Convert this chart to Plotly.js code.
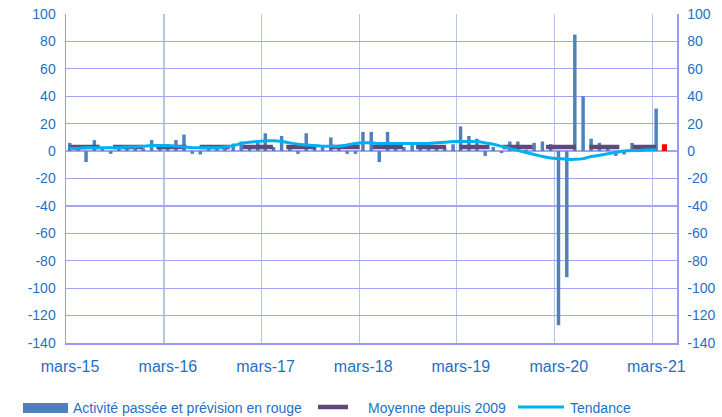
<!DOCTYPE html>
<html><head><meta charset="utf-8">
<script src="https://cdn.plot.ly/plotly-3.0.1.min.js"></script>
<style>html,body{margin:0;padding:0;background:#fff;} #chart{width:722px;height:417px;}</style>
</head><body><div id="chart"></div>
<script>
// ---- data ----
const startYear = 2015, startMonth = 3; // first bar: mars-15
const activite = [
  6, 3, -8, 8, 2, -2, 2, 1.5, 2, 2,          // mars-15 .. déc-15
  8, 2, 2.5, 8, 12, -2, -2.5, 1.5, 2, 2, 5.5, 7, // janv-16 .. déc-16
  3, 8, 13, 3, 11, 2, -2, 13, 2, 3, 10, 2,    // 2017
  -2, -2, 14, 14, -8, 14, 2, 3, 5, 2, 2, 2,   // 2018
  2, 5, 18, 11, 9, -3.5, 3, -1.5, 7, 7, 1, 6, // 2019
  7, 5, -127, -92, 85, 40, 9, 6, 2, -3.5, -2.5, 6, // 2020
  2, 2, 31, 5                                 // janv-21 .. avr-21 (avr-21 = prévision)
];
const tendance = [
  2, 2, 2.5, 2.5, 2.5, 2.5, 2.5, 3, 3, 3.5,
  4, 4, 4, 3.5, 3, 2.5, 2.5, 2.5, 2.5, 3, 4, 5.5,
  6.5, 7, 7.5, 7.5, 7, 6, 5, 4.5, 4, 3.5, 3.5, 3.5,
  4.5, 5.5, 6, 6, 5.5, 5.5, 5.5, 5.5, 5.5, 5.5, 5.5, 6,
  6.5, 7, 7, 7, 7, 6, 5, 3.5, 2, 0.5, -1, -2.5,
  -4, -5, -5.5, -6, -6, -5.5, -4, -3, -2, -1, 0, 0.5,
  0.5, 1, 1
];
const moyenneDepuis2009 = 3;
const xTickDates = ['2015-03-01','2016-03-01','2017-03-01','2018-03-01','2019-03-01','2020-03-01','2021-03-01'];
const xTickLabels = ['mars-15','mars-16','mars-17','mars-18','mars-19','mars-20','mars-21'];
const yTickVals = [100, 80, 60, 40, 20, 0, -20, -40, -60, -80, -100, -120, -140];
const yTickLabels = ['100','80','60','40','20','0','-20','-40','-60','-80','-100','-120','-140'];
const names = ['Activité passée et prévision en rouge', 'Moyenne depuis 2009', 'Tendance'];

// ---- helpers ----
function monthDate(i) {
  const k = startMonth - 1 + i;
  const y = startYear + Math.floor(k / 12);
  const m = k % 12 + 1;
  return y + '-' + String(m).padStart(2, '0') + '-15';
}
const months = activite.map((_, i) => monthDate(i));
const lastIdx = activite.length - 1;
const DAY = 86400000;
const BLUE = '#4F81BD', RED = '#FF0000', PURPLE = '#5F497A', CYAN = '#00B0F0', TXT = '#1F6FC5';

const traces = [
  {
    type: 'bar', x: months, y: activite, showlegend: false, hoverinfo: 'x+y',
    marker: { color: activite.map((_, i) => i === lastIdx ? RED : BLUE), line: { width: 0 } },
    width: activite.map((_, i) => (i === lastIdx ? 19 : 13) * DAY)
  },
  {
    type: 'scatter', mode: 'lines', x: months.slice(0, tendance.length),
    y: months.slice(0, tendance.length).map(() => moyenneDepuis2009),
    line: { color: PURPLE, width: 4.5, dash: '30px,13.3px' }, showlegend: false, name: names[1]
  },
  {
    // drawn against the right-hand axis (same scale as the left one)
    type: 'scatter', mode: 'lines', x: months.slice(0, tendance.length), y: tendance, yaxis: 'y2',
    line: { color: CYAN, width: 3, shape: 'spline', smoothing: 1 }, showlegend: false, name: names[2]
  }
];

// plot area in pixels: left 66, right 677, top 14, bottom 343
const L = 66, R = 677, T = 14, B = 343;
const px = v => (v - L) / (R - L);
const py = v => (B - v) / (B - T);
const legY = 408;

const shapes = [
  { type: 'rect', xref: 'paper', yref: 'paper', x0: px(23), x1: px(68), y0: py(legY + 5), y1: py(legY - 5), fillcolor: BLUE, line: { width: 0 } },
  { type: 'line', xref: 'paper', yref: 'paper', x0: px(318), x1: px(348), y0: py(legY - 1), y1: py(legY - 1), line: { color: PURPLE, width: 4.5 } },
  { type: 'line', xref: 'paper', yref: 'paper', x0: px(518), x1: px(564), y0: py(legY - 1), y1: py(legY - 1), line: { color: CYAN, width: 3 } }
];
const legTextX = [72, 367, 569];
const annotations = names.map((n, i) => ({
  xref: 'paper', yref: 'paper', x: px(legTextX[i]), y: py(legY), xanchor: 'left', yanchor: 'middle',
  text: n, showarrow: false, borderpad: 0, font: { size: 14, color: TXT }
}));

const yCommon = {
  range: [-140, 100], tickmode: 'array', tickvals: yTickVals, ticktext: yTickLabels,
  ticks: 'outside', ticklen: 6, tickcolor: 'rgba(0,0,0,0)',
  tickfont: { size: 14, color: TXT }, showline: true, linecolor: '#9A9AEE', linewidth: 1.5,
  zeroline: false, fixedrange: true
};

const layout = {
  width: 722, height: 417,
  margin: { l: L, r: 722 - R, t: T, b: 417 - B, pad: 0 },
  paper_bgcolor: '#FFFFFF', plot_bgcolor: '#FFFFFF',
  font: { family: '"Liberation Sans", Arial, sans-serif', color: TXT },
  showlegend: false,
  barmode: 'overlay',
  xaxis: {
    type: 'date', range: ['2015-03-01', '2021-06-01'],
    tickmode: 'array', tickvals: xTickDates, ticktext: xTickLabels,
    ticks: 'outside', ticklen: 8, tickcolor: 'rgba(0,0,0,0)', ticklabelshift: 4,
    tickfont: { size: 16, color: TXT },
    showgrid: true, gridcolor: '#B8C6E2', gridwidth: 1.3,
    showline: true, linecolor: '#9A9AEE', linewidth: 1.5, zeroline: false, fixedrange: true
  },
  yaxis: Object.assign({}, yCommon, { showgrid: true, gridcolor: '#A4A4F2', gridwidth: 1.3 }),
  yaxis2: Object.assign({}, yCommon, { overlaying: 'y', side: 'right', anchor: 'x', showgrid: false }),
  shapes: shapes,
  annotations: annotations
};

Plotly.newPlot('chart', traces, layout, { displayModeBar: false, staticPlot: true });
</script>
</body></html>
